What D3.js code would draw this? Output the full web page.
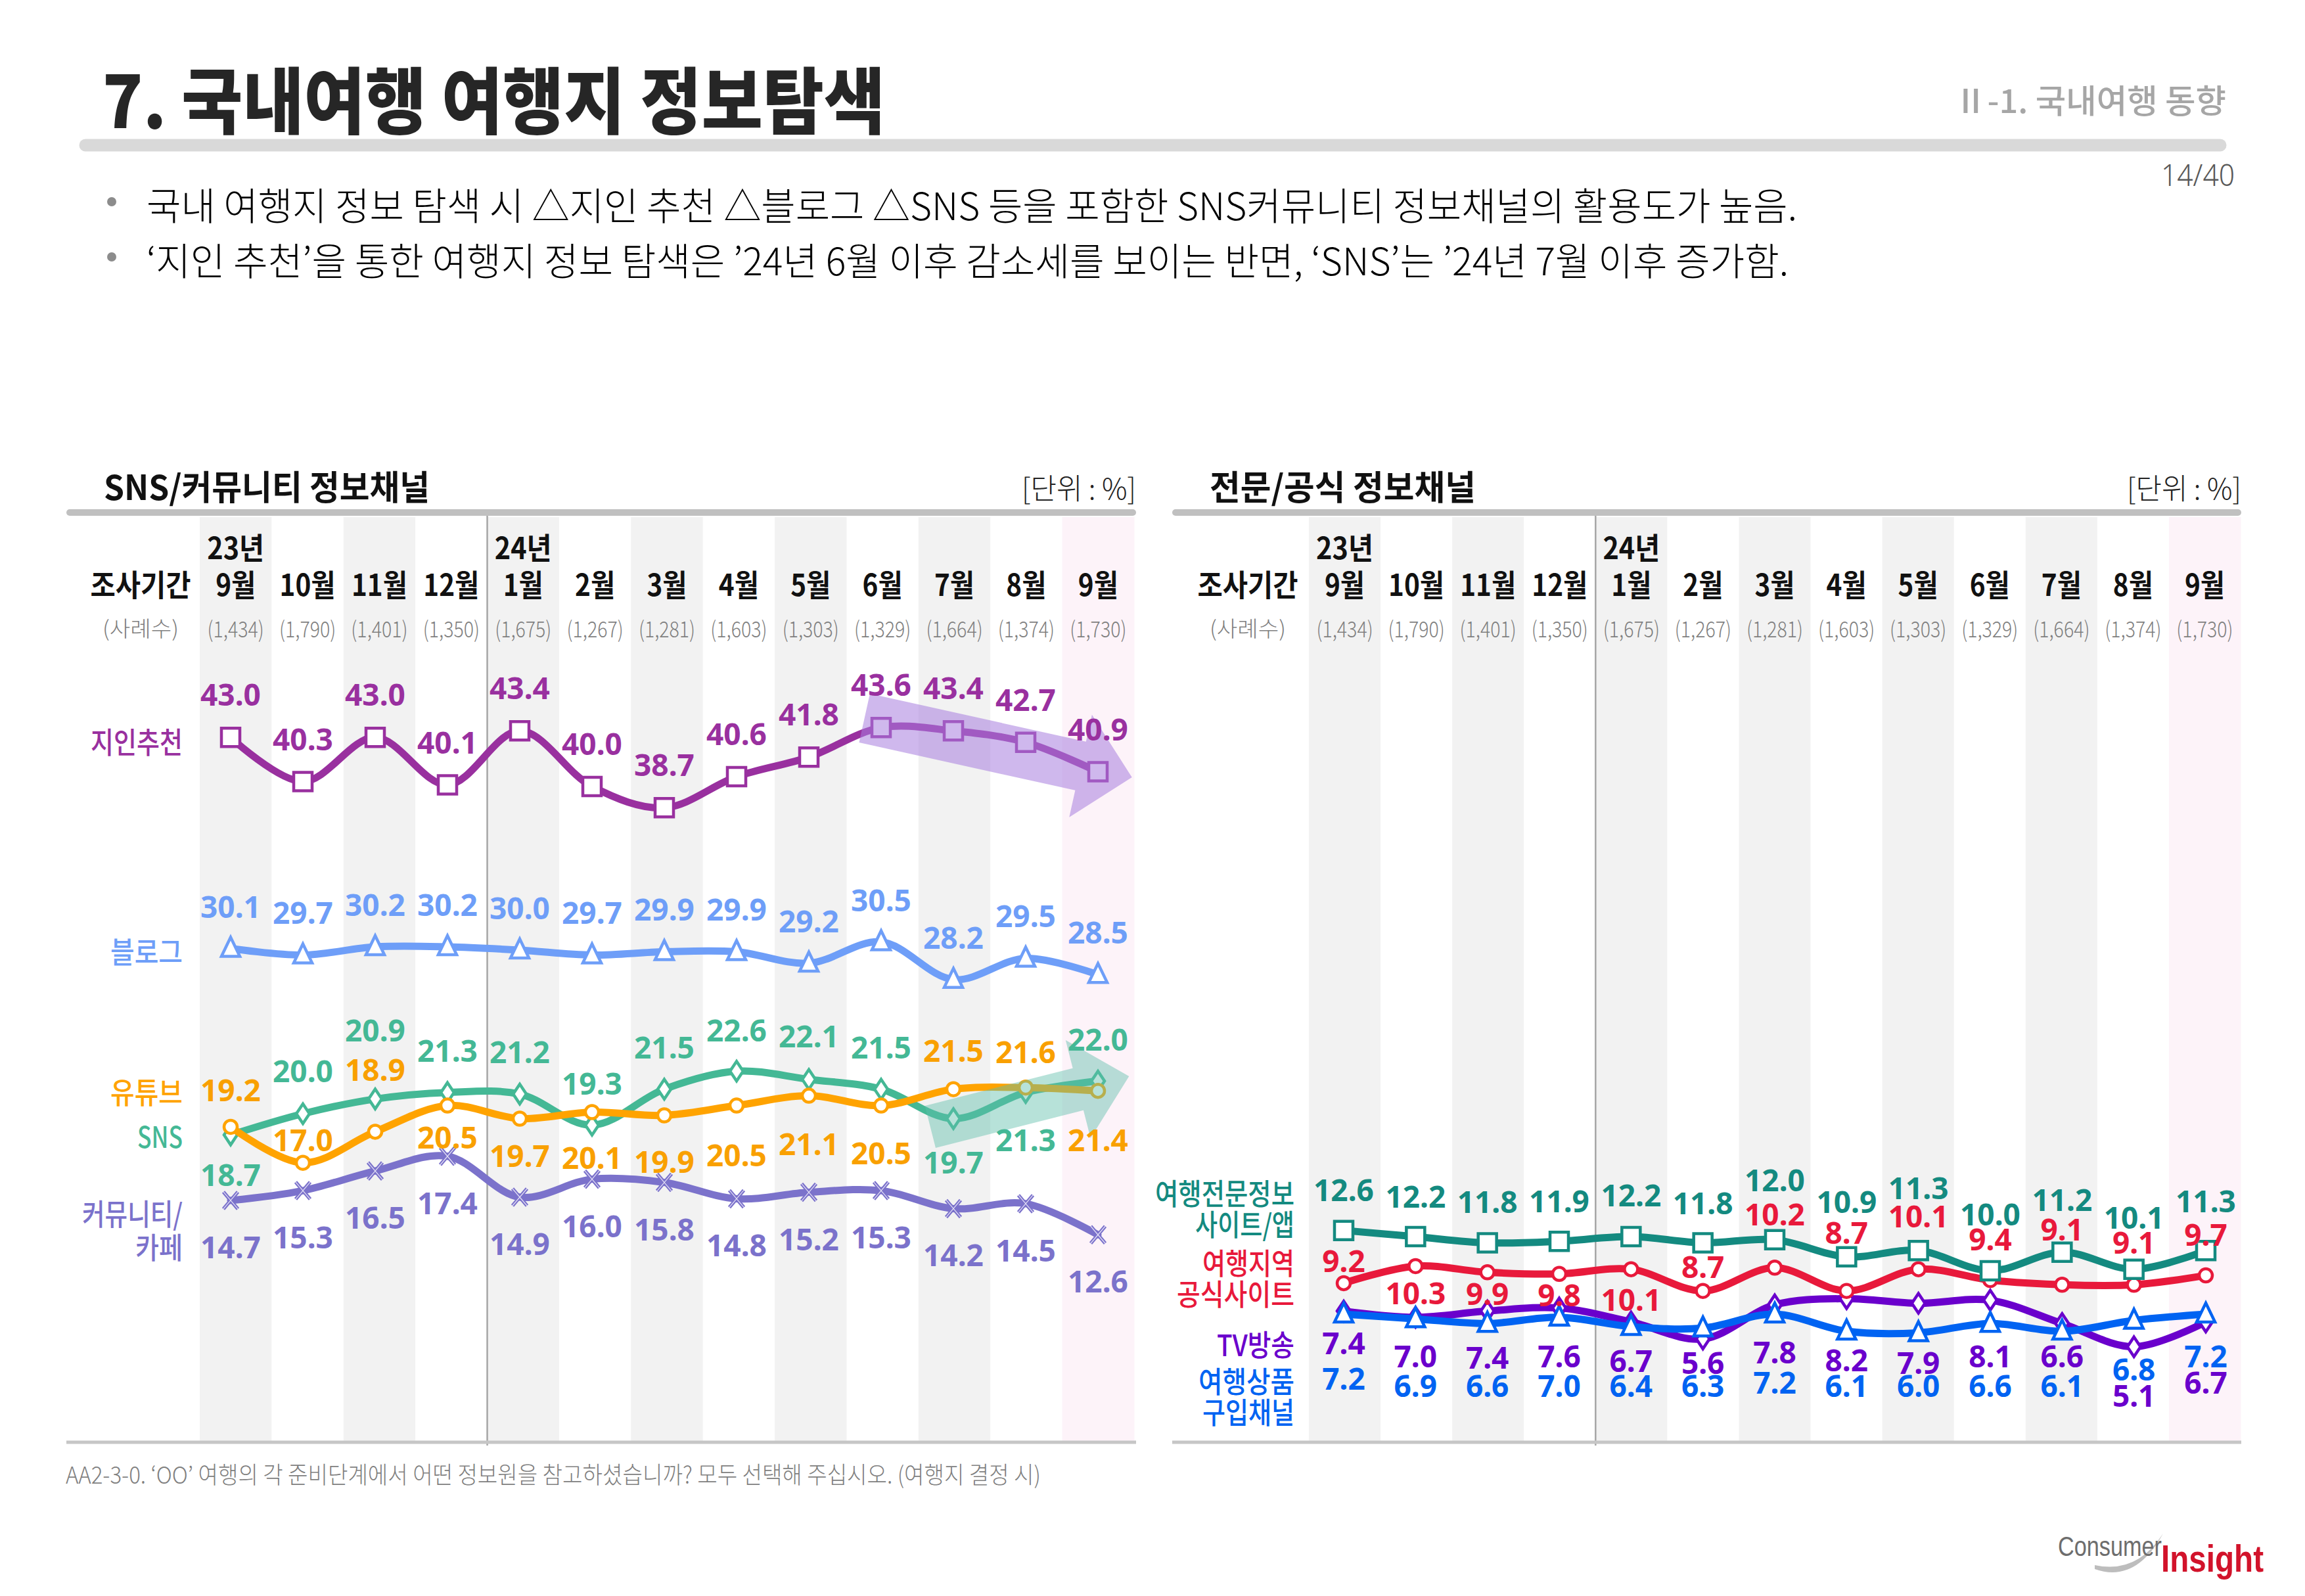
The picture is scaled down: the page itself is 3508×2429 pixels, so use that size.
<!DOCTYPE html>
<html><head><meta charset="utf-8">
<script src="https://cdn.jsdelivr.net/npm/d3@7"></script>
<style>html,body{margin:0;padding:0;background:#fff;} svg{display:block}</style>
</head><body>
<svg id="c" width="3508" height="2429"></svg>
<script>
// ================= DATA =================
const months = ["9월","10월","11월","12월","1월","2월","3월","4월","5월","6월","7월","8월","9월"];
const yearLabels = ["23년","","","","24년","","","","","","","",""];
const sampleSizes = ["(1,434)","(1,790)","(1,401)","(1,350)","(1,675)","(1,267)","(1,281)","(1,603)","(1,303)","(1,329)","(1,664)","(1,374)","(1,730)"];

// SNS/커뮤니티 정보채널
const jiin      = [43.0,40.3,43.0,40.1,43.4,40.0,38.7,40.6,41.8,43.6,43.4,42.7,40.9];
const blog      = [30.1,29.7,30.2,30.2,30.0,29.7,29.9,29.9,29.2,30.5,28.2,29.5,28.5];
const youtube   = [19.2,17.0,18.9,20.5,19.7,20.1,19.9,20.5,21.1,20.5,21.5,21.6,21.4];
const sns       = [18.7,20.0,20.9,21.3,21.2,19.3,21.5,22.6,22.1,21.5,19.7,21.3,22.0];
const community = [14.7,15.3,16.5,17.4,14.9,16.0,15.8,14.8,15.2,15.3,14.2,14.5,12.6];

// 전문/공식 정보채널
const expert  = [12.6,12.2,11.8,11.9,12.2,11.8,12.0,10.9,11.3,10.0,11.2,10.1,11.3];
const region  = [9.2,10.3,9.9,9.8,10.1,8.7,10.2,8.7,10.1,9.4,9.1,9.1,9.7];
const tv      = [7.4,7.0,7.4,7.6,6.7,5.6,7.8,8.2,7.9,8.1,6.6,5.1,6.7];
const product = [7.2,6.9,6.6,7.0,6.4,6.3,7.2,6.1,6.0,6.6,6.1,6.8,7.2];

// ================= LAYOUT (label offsets in px, not data) =================
const dyJiin      = Array(13).fill(-66);
const dyBlog      = Array(13).fill(-65);
const dyYoutube   = [-57,-36,-95,47,56,68,70,74,72,71,-60,-55,74];
const dySns       = [60,-66,-106,-65,-65,-64,-65,-63,-67,-65,66,71,-64];
const dyCommunity = Array(13).fill(70);
const dyExpert    = [-63,-62,-64,-62,-64,-62,-92,-85,-96,-87,-81,-80,-76];
const dyRegion    = [-35,40,32,31,45,-38,-82,-90,-82,-63,-85,-65,-63];
const dyTv        = [48,58,70,72,58,35,71,93,89,84,49,73,91];
const dyProduct   = [97,101,94,103,89,87,103,82,80,94,82,73,63];

const KR  = "'Noto Sans CJK KR','Noto Sans',sans-serif";
const NUM = "'Noto Sans','Noto Sans CJK KR',sans-serif";
const L = { bandTop: 787, bandBottom: 2193, barY: 780, bottomY: 2195, dividerBottom: 2200,
            yearY: 831, monthY: 887, sampleY: 955, titleY: 738 };

const svg = d3.select("#c");

function label(g, x, y, s, o) {
  const t = g.append("text").attr("x", x).attr("y", y).text(s)
    .attr("font-family", o.family || KR).attr("font-size", o.size)
    .attr("font-weight", o.weight || 400).attr("fill", o.fill || "#000")
    .attr("text-anchor", o.anchor || "start")
    .attr("dominant-baseline", o.baseline || "central");
  if (o.width) t.attr("textLength", o.width).attr("lengthAdjust", "spacingAndGlyphs");
  return t;
}

const MARK = {
  square: "M-14,-14H14V14H-14Z",
  circle: "M-10,0A10,10 0 1,0 10,0A10,10 0 1,0 -10,0Z",
  triangle: "M0,-17L14,12H-14Z",
  diamond: "M0,-15L10,0L0,15L-10,0Z",
  cross: "M-11,-13L11,13M11,-13L-11,13"
};

// ================= PAGE HEADER =================
label(svg, 156, 147, "7. 국내여행 여행지 정보탐색", {size: 110, weight: 900, fill: "#262626", width: 1191});
label(svg, 3388, 150, "Ⅱ-1. 국내여행 동향", {size: 50, weight: 500, fill: "#a6a6a6", anchor: "end", width: 414});
svg.append("line").attr("x1", 130).attr("x2", 3379).attr("y1", 221).attr("y2", 221)
  .attr("stroke", "#d9d9d9").attr("stroke-width", 19).attr("stroke-linecap", "round");
label(svg, 3401, 265, "14/40", {size: 46, weight: 300, fill: "#595959", anchor: "end", family: NUM, width: 112});

const bullets = [
  "국내 여행지 정보 탐색 시 △지인 추천 △블로그 △SNS 등을 포함한 SNS커뮤니티 정보채널의 활용도가 높음.",
  "‘지인 추천’을 통한 여행지 정보 탐색은 ’24년 6월 이후 감소세를 보이는 반면, ‘SNS’는 ’24년 7월 이후 증가함."
];
const bulletY = [310, 394], bulletW = [2512, 2499];
bullets.forEach((b, i) => {
  svg.append("circle").attr("cx", 170).attr("cy", bulletY[i] - 3).attr("r", 7).attr("fill", "#8c8c8c");
  label(svg, 223, bulletY[i], b, {size: 58, weight: 300, fill: "#000", width: bulletW[i]});
});

// ================= PANELS =================
function drawPanel(P) {
  const n = months.length;
  const g = svg.append("g");
  const band = d3.scaleBand().domain(d3.range(n)).range([P.bandX0, P.bandX1]);
  const x = d3.scalePoint().domain(d3.range(n)).range([P.px0, P.px1]);
  const xLin = d3.scaleLinear().domain([0, n - 1]).range([P.px0, P.px1]);
  const y = d3.scaleLinear().domain([0, 10]).range([P.y0, P.y0 - P.k * 10]);

  // column bands
  g.append("g").selectAll("rect").data(d3.range(n)).join("rect")
    .attr("x", i => band(i)).attr("y", L.bandTop)
    .attr("width", band.bandwidth() + 0.5).attr("height", L.bandBottom - L.bandTop)
    .attr("fill", i => i === n - 1 ? "#fdf3f9" : (i % 2 === 0 ? "#f2f2f2" : "#ffffff"));

  // year divider
  g.append("line").attr("x1", band(4)).attr("x2", band(4))
    .attr("y1", L.barY).attr("y2", L.dividerBottom)
    .attr("stroke", "#a6a6a6").attr("stroke-width", 2.5);

  // top bar & bottom rule
  g.append("line").attr("x1", P.barX0 + 5).attr("x2", P.barX1 - 5).attr("y1", L.barY).attr("y2", L.barY)
    .attr("stroke", "#c0c0c0").attr("stroke-width", 10).attr("stroke-linecap", "round");
  g.append("line").attr("x1", P.barX0).attr("x2", P.barX1).attr("y1", L.bottomY).attr("y2", L.bottomY)
    .attr("stroke", "#c6c6c6").attr("stroke-width", 5);

  // panel title & unit
  label(g, P.titleX, L.titleY, P.title, {size: 52, weight: 700, fill: "#111", width: P.titleW});
  label(g, P.barX1, 741, "[단위 : %]", {size: 44, weight: 300, fill: "#222", anchor: "end", width: 174});

  // header rows
  label(g, P.headCenter, L.monthY, "조사기간", {size: 46, weight: 700, fill: "#111", anchor: "middle", width: 153});
  label(g, P.headCenter, L.sampleY, "(사례수)", {size: 33, weight: 300, fill: "#7f7f7f", anchor: "middle", width: 116});

  const monthAxis = d3.axisTop(band).tickSize(0).tickPadding(0).tickFormat(i => months[i]);
  const ma = g.append("g").attr("transform", `translate(0,${L.monthY})`).call(monthAxis);
  ma.select(".domain").remove();
  ma.attr("font-family", KR).attr("font-size", 46).attr("font-weight", 700);
  ma.selectAll("text").attr("y", 0).attr("dy", null).attr("fill", "#111")
    .attr("dominant-baseline", "central").attr("transform", "scale(0.88,1)");

  const yearAxis = d3.axisTop(band).tickSize(0).tickPadding(0).tickFormat(i => yearLabels[i]);
  const ya = g.append("g").attr("transform", `translate(0,${L.yearY})`).call(yearAxis);
  ya.select(".domain").remove();
  ya.attr("font-family", KR).attr("font-size", 46).attr("font-weight", 700);
  ya.selectAll("text").attr("y", 0).attr("dy", null).attr("fill", "#111")
    .attr("dominant-baseline", "central").attr("transform", "scale(0.9,1)");

  const sampleAxis = d3.axisTop(band).tickSize(0).tickPadding(0).tickFormat(i => sampleSizes[i]);
  const sa = g.append("g").attr("transform", `translate(0,${L.sampleY})`).call(sampleAxis);
  sa.select(".domain").remove();
  sa.attr("font-family", KR).attr("font-size", 34).attr("font-weight", 300);
  sa.selectAll("text").attr("y", 0).attr("dy", null).attr("fill", "#7f7f7f")
    .attr("dominant-baseline", "central").attr("transform", "scale(0.84,1)");

  // series lines + markers
  const line = d3.line().x((d, i) => x(i)).y(d => y(d)).curve(d3.curveCatmullRom.alpha(0.5));
  P.series.forEach(s => {
    g.append("path").attr("d", line(s.values)).attr("fill", "none")
      .attr("stroke", s.color).attr("stroke-width", 11)
      .attr("stroke-linejoin", "round").attr("stroke-linecap", "round");
    const m = g.append("g").selectAll("g").data(s.values).join("g")
      .attr("transform", (d, i) => `translate(${x(i)},${y(d)})`);
    if (s.marker === "cross") {
      m.append("path").attr("d", MARK.cross).attr("stroke", s.color).attr("stroke-width", 5.5).attr("fill", "none");
      m.append("path").attr("d", MARK.cross).attr("stroke", "#e4e0f6").attr("stroke-width", 1.2).attr("fill", "none");
    } else {
      m.append("path").attr("d", MARK[s.marker]).attr("fill", "#fff")
        .attr("stroke", s.color).attr("stroke-width", 4.5).attr("stroke-linejoin", "miter");
    }
  });

  // trend arrows (semi-transparent, over the lines)
  (P.arrows || []).forEach(a => {
    const S = [xLin(a.from[0]), y(a.from[1])], T = [xLin(a.to[0]), y(a.to[1])];
    const len = Math.hypot(T[0] - S[0], T[1] - S[1]);
    const u = [(T[0] - S[0]) / len, (T[1] - S[1]) / len], nrm = [-u[1], u[0]];
    const B = [T[0] - u[0] * a.head, T[1] - u[1] * a.head];
    const p = (P0, k) => [P0[0] + nrm[0] * k, P0[1] + nrm[1] * k];
    const pts = [p(S, -a.body), p(B, -a.body), p(B, -a.headW), T, p(B, a.headW), p(B, a.body), p(S, a.body)];
    g.append("path").attr("d", d3.line()(pts) + "Z").attr("fill", a.fill).attr("opacity", a.opacity);
  });

  // series names
  P.series.forEach(s => {
    s.names.forEach((nm, k) => {
      label(g, P.nameRight, s.nameY[k], nm, {size: 45, weight: 500, fill: s.color, anchor: "end", width: s.nameW[k]});
    });
  });

  // value labels
  P.series.forEach(s => {
    g.append("g").selectAll("text").data(s.values).join("text")
      .attr("x", (d, i) => x(i)).attr("y", (d, i) => y(d) + s.dy[i])
      .attr("text-anchor", "middle").attr("dominant-baseline", "central")
      .attr("font-family", NUM).attr("font-size", 46).attr("font-weight", 700)
      .attr("fill", s.labelColor || s.color)
      .text(d => d.toFixed(1));
  });
}

drawPanel({
  bandX0: 304, bandX1: 1726, px0: 351, px1: 1671, y0: 2193, k: 24.9,
  barX0: 101, barX1: 1729, headCenter: 214, nameRight: 278,
  titleX: 158, titleW: 496, title: "SNS/커뮤니티 정보채널",
  series: [
    {names: ["커뮤니티/", "카페"], nameY: [1845, 1896], nameW: [153, 72], values: community, color: "#7b72cb", marker: "cross", dy: dyCommunity},
    {names: ["SNS"], nameY: [1727], nameW: [69], values: sns, color: "#44b895", marker: "diamond", dy: dySns},
    {names: ["유튜브"], nameY: [1660], nameW: [110], values: youtube, color: "#ffa300", labelColor: "#f9a000", marker: "circle", dy: dyYoutube},
    {names: ["블로그"], nameY: [1446], nameW: [110], values: blog, color: "#6e9ef8", marker: "triangle", dy: dyBlog},
    {names: ["지인추천"], nameY: [1127], nameW: [140], values: jiin, color: "#99309f", marker: "square", dy: dyJiin}
  ],
  arrows: [
    {from: [8.77, 44.18], to: [12.47, 40.56], body: 38, headW: 80, head: 80, fill: "#a77ddf", opacity: 0.55},
    {from: [9.68, 19.2], to: [12.43, 22.29], body: 33, headW: 77, head: 80, fill: "#5fbfab", opacity: 0.45}
  ]
});

drawPanel({
  bandX0: 1992, bandX1: 3410, px0: 2045, px1: 3357, y0: 2170, k: 23.6,
  barX0: 1784, barX1: 3411, headCenter: 1899, nameRight: 1970,
  titleX: 1841, titleW: 405, title: "전문/공식 정보채널",
  series: [
    {names: ["TV방송"], nameY: [2044], nameW: [118], values: tv, color: "#6a00cc", marker: "diamond", dy: dyTv},
    {names: ["여행상품", "구입채널"], nameY: [2100, 2147], nameW: [146, 140], values: product, color: "#0063f2", marker: "triangle", dy: dyProduct},
    {names: ["여행지역", "공식사이트"], nameY: [1920, 1967], nameW: [140, 179], values: region, color: "#e8193b", marker: "circle", dy: dyRegion},
    {names: ["여행전문정보", "사이트/앱"], nameY: [1814, 1861], nameW: [212, 151], values: expert, color: "#148a80", marker: "square", dy: dyExpert}
  ]
});

// ================= FOOTER =================
label(svg, 100, 2242, "AA2-3-0. ‘OO’ 여행의 각 준비단계에서 어떤 정보원을 참고하셨습니까? 모두 선택해 주십시오. (여행지 결정 시)",
  {size: 36, weight: 300, fill: "#7f7f7f", width: 1484});

// logo
svg.append("path").attr("d", "M3188,2388 Q3250,2410 3292,2334 Q3252,2396 3188,2382 Z").attr("fill", "#bdbdbd");
label(svg, 3132, 2368, "Consumer", {size: 42, weight: 400, fill: "#6d6d6d", family: "'Liberation Sans',sans-serif", baseline: "alphabetic", width: 158});
label(svg, 3289, 2392, "Insight", {size: 58, weight: 700, fill: "#d2132b", family: "'Liberation Sans',sans-serif", baseline: "alphabetic", width: 156});
</script>
</body></html>
